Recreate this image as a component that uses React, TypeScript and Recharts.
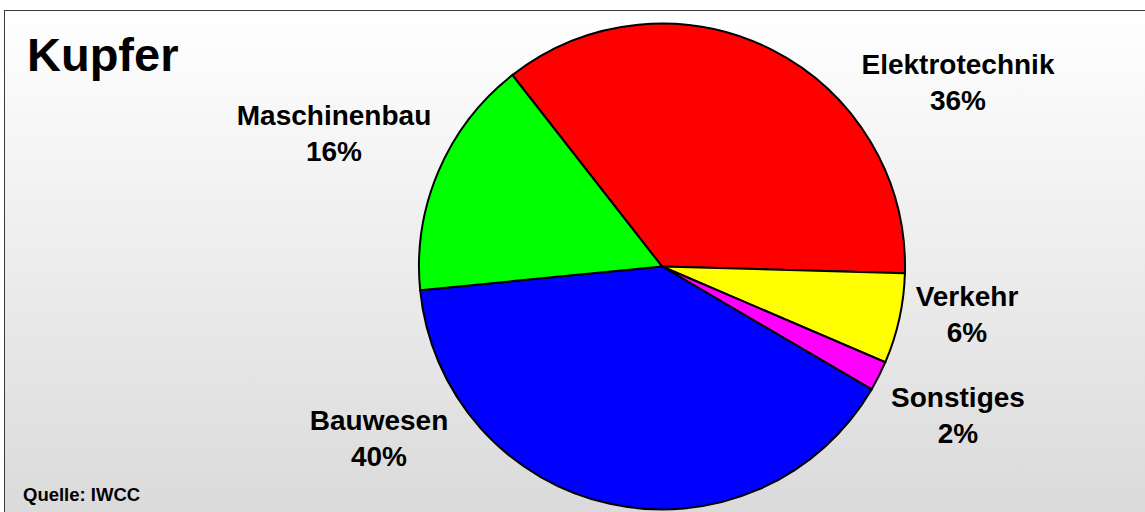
import React from "react";
import { PieChart, Pie, Cell } from "recharts";

const categories = ["Elektrotechnik", "Verkehr", "Sonstiges", "Bauwesen", "Maschinenbau"];
const shares = [36, 6, 2, 40, 16];
const colors = ["#ff0000", "#ffff00", "#ff00ff", "#0000ff", "#00ff00"];
const title = "Kupfer";
const source = "Quelle: IWCC";

// label anchor offsets relative to the pie centre (layout only)
const labelOffsets: [number, number][] = [
  [296, -193],
  [305, 39],
  [296, 140],
  [-283, 163],
  [-328, -142],
];

const data = categories.map((name, i) => ({ name, value: shares[i] }));

const FONT = "'Liberation Sans', Arial, Helvetica, sans-serif";

const renderLabel = (props: any) => {
  const { cx, cy, index, name, value } = props;
  const [dx, dy] = labelOffsets[index];
  const x = cx + dx;
  const y = cy + dy;
  return (
    <text
      x={x}
      y={y}
      textAnchor="middle"
      fontFamily={FONT}
      fontWeight="bold"
      fontSize={28}
      fill="#000"
    >
      <tspan x={x} y={y}>{name}</tspan>
      <tspan x={x} y={y + 36}>{`${value}%`}</tspan>
    </text>
  );
};

export default function App() {
  return (
    <div style={{ position: "absolute", left: 0, top: 0, width: 1145, height: 512, overflow: "hidden" }}>
      <div
        style={{
          position: "absolute",
          left: 4,
          top: 10,
          width: 1160,
          height: 520,
          border: "1px solid #3a3a3a",
          boxSizing: "border-box",
          background: "linear-gradient(to bottom, #ffffff 0%, #d9d9d9 100%)",
        }}
      />
      <div
        style={{
          position: "absolute",
          left: 27,
          top: 25,
          fontFamily: FONT,
          fontWeight: "bold",
          fontSize: 47,
          lineHeight: "60px",
          color: "#000",
        }}
      >
        {title}
      </div>
      <div
        style={{
          position: "absolute",
          left: 23,
          top: 484,
          fontFamily: FONT,
          fontWeight: "bold",
          fontSize: 18.5,
          lineHeight: "22px",
          color: "#000",
        }}
      >
        {source}
      </div>
      <div style={{ position: "absolute", left: 0, top: 0 }}>
        <PieChart width={1145} height={512} margin={{ top: 0, right: 0, bottom: 0, left: 0 }}>
          <Pie
            data={data}
            dataKey="value"
            nameKey="name"
            cx={662}
            cy={266.5}
            innerRadius={0}
            outerRadius={243}
            startAngle={128}
            endAngle={-232}
            stroke="#000"
            strokeWidth={2}
            label={renderLabel}
            labelLine={false}
            isAnimationActive={false}
          >
            {data.map((d, i) => (
              <Cell key={d.name} fill={colors[i]} />
            ))}
          </Pie>
        </PieChart>
      </div>
    </div>
  );
}
